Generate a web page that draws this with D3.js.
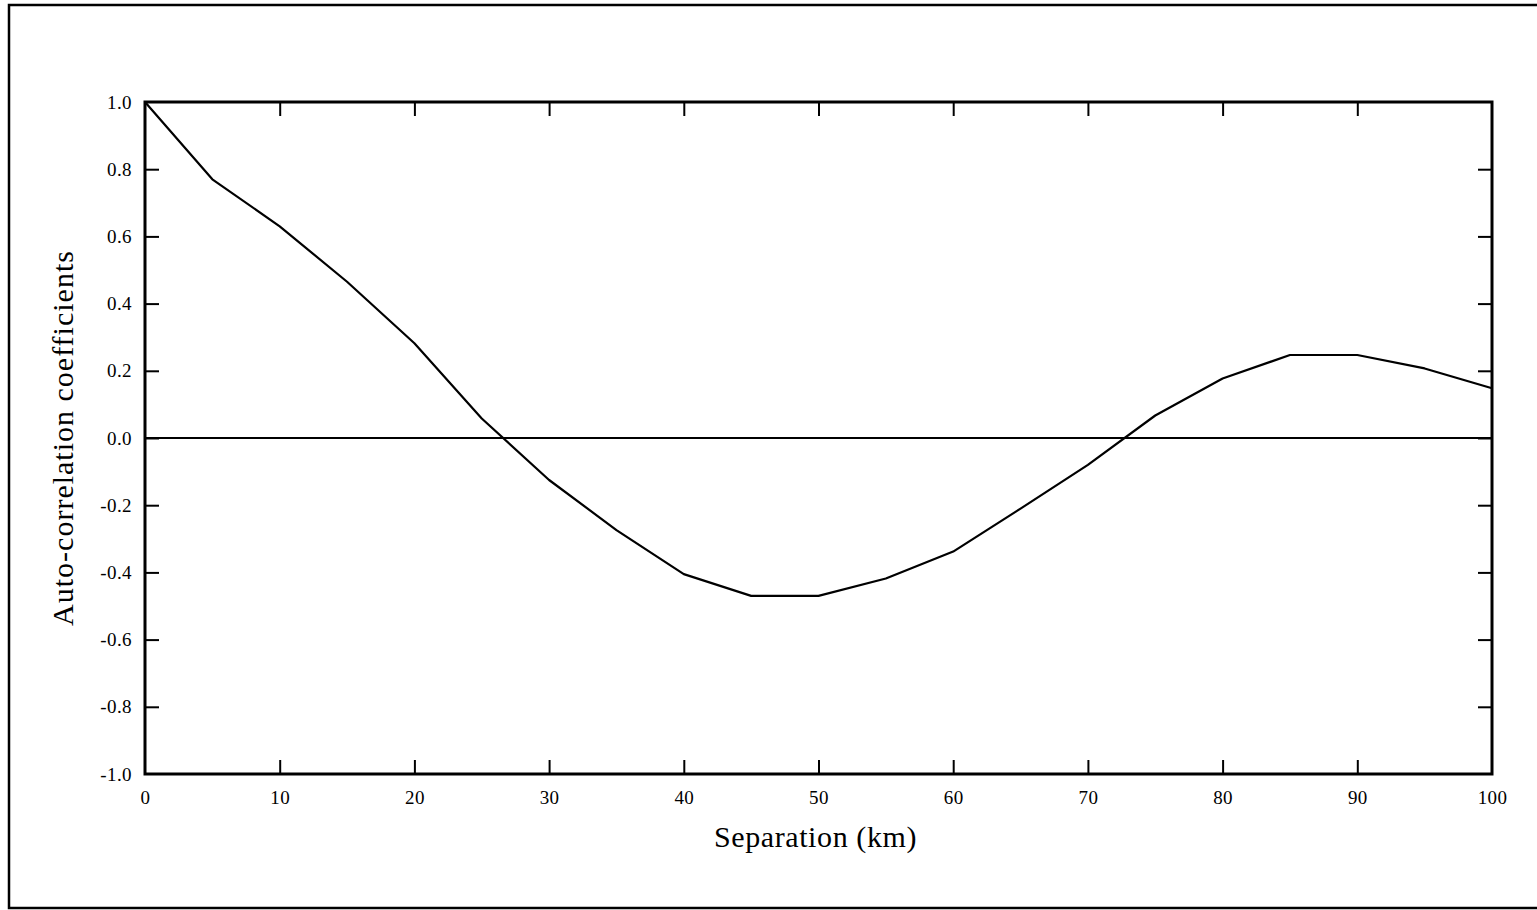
<!DOCTYPE html>
<html>
<head>
<meta charset="utf-8">
<script src="https://cdn.jsdelivr.net/npm/d3@7"></script>
<style>
  html, body { margin: 0; padding: 0; background: #fff; }
  svg { display: block; }
  text { font-family: "Liberation Serif", "DejaVu Serif", serif; fill: #000; }
</style>
</head>
<body>
<svg id="chart" width="1537" height="910"></svg>
<script>
// Data
const separationKm = [0, 5, 10, 15, 20, 25, 30, 35, 40, 45, 50, 55, 60, 65, 70, 75, 80, 85, 90, 95, 100];
const autoCorrelation = [1.0, 0.77, 0.63, 0.465, 0.282, 0.058, -0.125, -0.274, -0.405, -0.47, -0.47, -0.418, -0.338, -0.21, -0.08, 0.067, 0.177, 0.247, 0.247, 0.207, 0.148];
const xTicks = [0, 10, 20, 30, 40, 50, 60, 70, 80, 90, 100];
const yTicks = [-1.0, -0.8, -0.6, -0.4, -0.2, 0.0, 0.2, 0.4, 0.6, 0.8, 1.0];
const xTitle = "Separation (km)";
const yTitle = "Auto-correlation coefficients";

(function () {
const svg = d3.select("#chart");
const L = 145, R = 1492, T = 102, B = 774;

const x = d3.scaleLinear().domain([0, 100]).range([L, R]);
const y = d3.scaleLinear().domain([-1, 1]).range([B, T]);

// outer frame
svg.append("rect").attr("x", 9).attr("y", 5).attr("width", 1540).attr("height", 903)
  .attr("fill", "none").attr("stroke", "#000").attr("stroke-width", 2.5);

// zero line
svg.append("line").attr("x1", x(0)).attr("x2", x(100)).attr("y1", y(0)).attr("y2", y(0))
  .attr("stroke", "#000").attr("stroke-width", 2);

const tickLen = 14;
const fmt = d => d3.format(".1f")(d).replace("\u2212", "-");

const gBottom = svg.append("g").attr("transform", `translate(0,${B})`)
  .call(d3.axisBottom(x).tickValues(xTicks).tickSizeInner(-tickLen).tickSizeOuter(0).tickPadding(17).tickFormat(d3.format("d")));
const gTop = svg.append("g").attr("transform", `translate(0,${T})`)
  .call(d3.axisTop(x).tickValues(xTicks).tickSizeInner(-tickLen).tickSizeOuter(0).tickFormat(""));
const gLeft = svg.append("g").attr("transform", `translate(${L},0)`)
  .call(d3.axisLeft(y).tickValues(yTicks).tickSizeInner(-tickLen).tickSizeOuter(0).tickPadding(13).tickFormat(fmt));
const gRight = svg.append("g").attr("transform", `translate(${R},0)`)
  .call(d3.axisRight(y).tickValues(yTicks).tickSizeInner(-tickLen).tickSizeOuter(0).tickFormat(""));

[gBottom, gTop, gLeft, gRight].forEach(g => {
  g.selectAll(".domain").remove();
  g.selectAll(".tick line").attr("stroke", "#000").attr("stroke-width", 2);
  g.selectAll("text").attr("font-family", "Liberation Serif").attr("font-size", 19)
    .attr("letter-spacing", 0.4).attr("fill", "#000");
});
gBottom.selectAll(".tick").filter(d => d === 0 || d === 100).select("line").remove();
gTop.selectAll(".tick").filter(d => d === 0 || d === 100).remove();
gLeft.selectAll(".tick").filter(d => d === -1 || d === 1).select("line").remove();
gRight.selectAll(".tick").filter(d => d === -1 || d === 1).remove();

// plot frame
svg.append("rect").attr("x", L).attr("y", T).attr("width", R - L).attr("height", B - T)
  .attr("fill", "none").attr("stroke", "#000").attr("stroke-width", 3);

// curve
const line = d3.line().x((d, i) => x(separationKm[i])).y(d => y(d));
svg.append("path").datum(autoCorrelation).attr("d", line)
  .attr("fill", "none").attr("stroke", "#000").attr("stroke-width", 2.2).attr("stroke-linejoin", "round");

// titles
svg.append("text").attr("x", (L + R) / 2 - 3).attr("y", 847).attr("text-anchor", "middle")
  .attr("font-size", 30).attr("letter-spacing", 0.6).text(xTitle);
svg.append("text").attr("transform", `translate(73,${(T + B) / 2}) rotate(-90)`).attr("text-anchor", "middle")
  .attr("font-size", 30).attr("letter-spacing", 1).text(yTitle);
})();
</script>
</body>
</html>
